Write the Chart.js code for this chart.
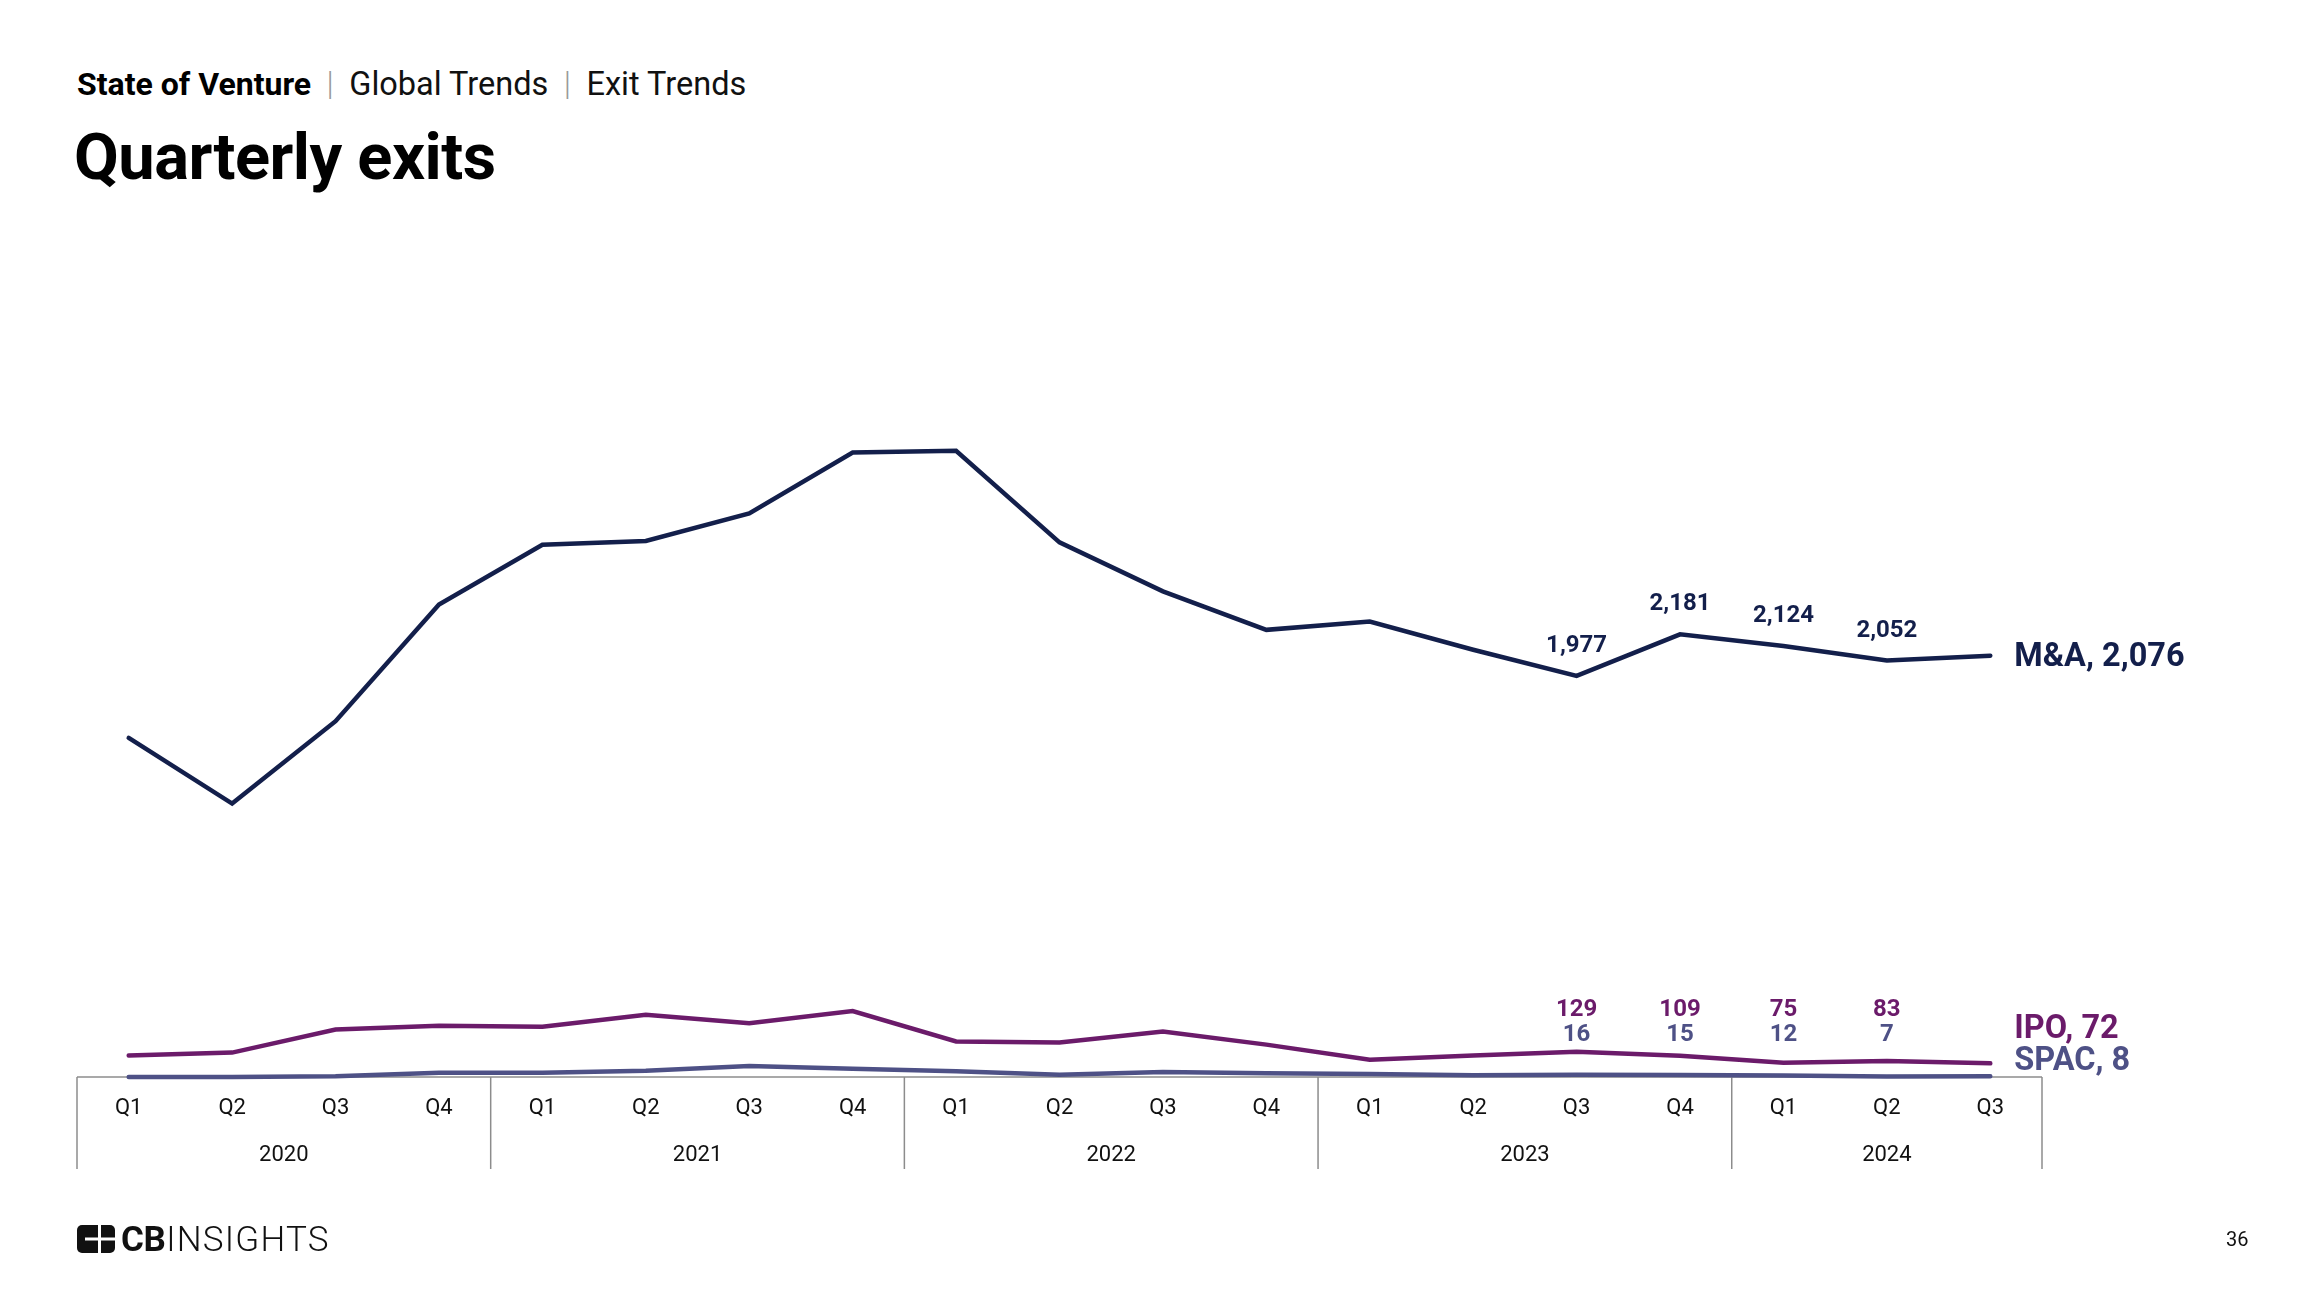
<!DOCTYPE html>
<html>
<head>
<meta charset="utf-8">
<script src="https://cdn.jsdelivr.net/npm/chart.js@4.4.1/dist/chart.umd.min.js"></script>
<style>
  html, body { margin: 0; padding: 0; background: #ffffff; }
  body { width: 2322px; height: 1312px; position: relative; overflow: hidden; font-family: Roboto, "Noto Sans", sans-serif; }
  #chart { position: absolute; left: 0; top: 0; }
  .hdr { position: absolute; left: 77px; top: 68px; font-size: 32.5px; line-height: 1; color: #111; white-space: nowrap; }
  .hdr b { font-weight: 700; color: #000; font-size: 32px; }
  .hdr .sep { color: #999999; margin: 0 15.5px; font-weight: 300; }
  .title { position: absolute; left: 74px; top: 125px; font-size: 65px; line-height: 1; font-weight: 700; color: #000; white-space: nowrap; letter-spacing: -0.5px; }
  .logo { position: absolute; left: 77px; top: 1222px; height: 34px; display: flex; align-items: center; white-space: nowrap; }
  .logo svg { display: block; }
  .logo .txt { margin-left: 6px; font-size: 35px; line-height: 1; color: #111; letter-spacing: 1.2px; }
  .logo .txt b { font-weight: 700; letter-spacing: -0.5px; margin-right: 1px; }
  .logo .txt span { font-weight: 300; }
  .page { position: absolute; left: 2226px; top: 1229px; font-size: 20px; line-height: 1; color: #111; }
</style>
</head>
<body>
<div class="hdr"><b>State of Venture</b><span class="sep">|</span>Global Trends<span class="sep">|</span>Exit Trends</div>
<div class="title">Quarterly exits</div>
<canvas id="chart" width="2322" height="1312"></canvas>
<div class="logo">
  <svg width="38" height="28" viewBox="0 0 38 28">
    <rect x="0" y="0" width="38" height="28" rx="5" ry="5" fill="#111"/>
    <rect x="21" y="0" width="3" height="28" fill="#fff"/>
    <rect x="24" y="12.5" width="14" height="3" fill="#fff"/>
    <rect x="8" y="12.5" width="13" height="3" fill="#fff"/>
  </svg>
  <div class="txt"><b>CB</b><span>INSIGHTS</span></div>
</div>
<div class="page">36</div>
<script>
// ---- data ----
const quarters = ['Q1','Q2','Q3','Q4','Q1','Q2','Q3','Q4','Q1','Q2','Q3','Q4','Q1','Q2','Q3','Q4','Q1','Q2','Q3'];
const years = ['2020','2021','2022','2023','2024'];
const quartersPerYear = [4,4,4,4,3];
const maValues   = [1672,1349,1754,2327,2621,2640,2775,3075,3083,2633,2392,2203,2244,2105,1977,2181,2124,2052,2076];
const ipoValues  = [111,125,238,257,252,311,269,329,180,174,228,164,90,111,129,109,75,83,72];
const spacValues = [5,5,8,26,26,36,59,45,33,16,30,23,20,13,16,15,12,7,8];
const labelledIdx = [14,15,16,17];
const seriesNames = ['M&A','IPO','SPAC'];

const COL_MA = '#131f4b';
const COL_IPO = '#6b1b6a';
const COL_SPAC = '#4e5186';
const COL_AXIS = '#8c8c8c';

function fmt(v){ return v.toLocaleString('en-US'); }

const overlay = {
  id: 'overlay',
  beforeDatasetsDraw(chart){
    const ctx = chart.ctx, x = chart.scales.x, area = chart.chartArea;
    const bottom = area.bottom - 1, boxH = 92;
    ctx.save();
    ctx.strokeStyle = COL_AXIS;
    ctx.lineWidth = 1.5;
    ctx.beginPath();
    ctx.moveTo(area.left, bottom); ctx.lineTo(area.right, bottom);
    ctx.stroke();
    const half = (x.getPixelForValue(1) - x.getPixelForValue(0)) / 2;
    let idx = 0;
    const bounds = [x.getPixelForValue(0) - half];
    quartersPerYear.forEach(n => { idx += n; bounds.push(x.getPixelForValue(idx - 1) + half); });
    bounds.forEach(b => {
      ctx.beginPath(); ctx.moveTo(b, bottom); ctx.lineTo(b, bottom + boxH); ctx.stroke();
    });
    ctx.fillStyle = '#111';
    ctx.font = '22px Roboto';
    ctx.textAlign = 'center';
    ctx.textBaseline = 'middle';
    quarters.forEach((q, i) => ctx.fillText(q, x.getPixelForValue(i), bottom + 31));
    years.forEach((y, i) => ctx.fillText(y, (bounds[i] + bounds[i+1]) / 2, bottom + 78));
    ctx.restore();
  },
  afterDatasetsDraw(chart){
    const ctx = chart.ctx, x = chart.scales.x, yS = chart.scales.y, area = chart.chartArea;
    ctx.save();
    ctx.textAlign = 'center';
    ctx.textBaseline = 'middle';
    ctx.font = 'bold 24px Roboto';
    labelledIdx.forEach(i => {
      const px = x.getPixelForValue(i);
      ctx.fillStyle = COL_MA;
      ctx.fillText(fmt(maValues[i]), px, yS.getPixelForValue(maValues[i]) - 30);
      ctx.fillStyle = COL_IPO;
      ctx.fillText(fmt(ipoValues[i]), px, area.bottom - 68);
      ctx.fillStyle = COL_SPAC;
      ctx.fillText(fmt(spacValues[i]), px, area.bottom - 43);
    });
    const last = quarters.length - 1;
    const ex = x.getPixelForValue(last) + 24;
    ctx.textAlign = 'left';
    ctx.font = 'bold 32.5px Roboto';
    ctx.fillStyle = COL_MA;
    ctx.fillText(seriesNames[0] + ', ' + fmt(maValues[last]), ex, yS.getPixelForValue(maValues[last]) + 2);
    ctx.fillStyle = COL_IPO;
    ctx.fillText(seriesNames[1] + ', ' + fmt(ipoValues[last]), ex, area.bottom - 48);
    ctx.fillStyle = COL_SPAC;
    ctx.fillText(seriesNames[2] + ', ' + fmt(spacValues[last]), ex, area.bottom - 16);
    ctx.restore();
  }
};

new Chart(document.getElementById('chart'), {
  type: 'line',
  data: {
    labels: quarters,
    datasets: [
      { label: seriesNames[2], data: spacValues, borderColor: COL_SPAC, borderWidth: 4.5 },
      { label: seriesNames[1], data: ipoValues, borderColor: COL_IPO, borderWidth: 4.5 },
      { label: seriesNames[0], data: maValues, borderColor: COL_MA, borderWidth: 4.5 }
    ]
  },
  options: {
    responsive: false,
    animation: false,
    devicePixelRatio: 1,
    layout: { padding: { left: 77, right: 280, top: 366, bottom: 234 } },
    elements: {
      point: { radius: 0, hoverRadius: 0 },
      line: { tension: 0, borderCapStyle: 'round', borderJoinStyle: 'miter', fill: false }
    },
    datasets: { line: { clip: false } },
    scales: {
      x: { type: 'category', offset: true, display: false },
      y: { min: 0, max: 3500, display: false }
    },
    plugins: { legend: { display: false }, tooltip: { enabled: false } }
  },
  plugins: [overlay]
});
</script>
</body>
</html>
